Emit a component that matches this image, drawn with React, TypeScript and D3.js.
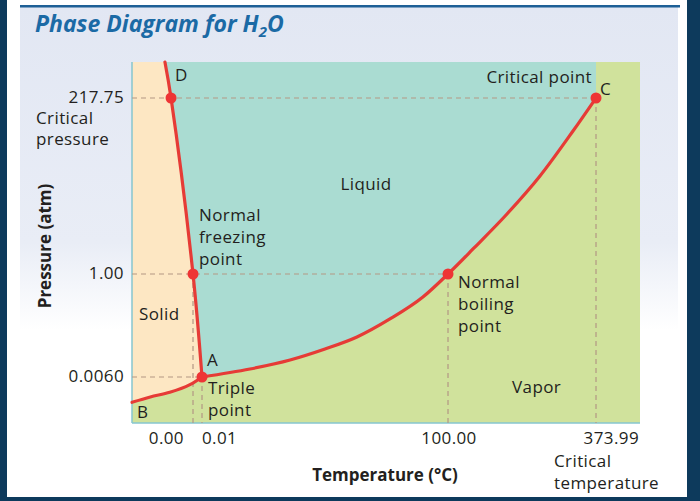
import React from "react";
import * as d3 from "d3";

// ---- data (schematic phase diagram) ----
const tempTicks = [0, 0.01, 100, 373.99];
const tempTickLabels = ["0.00", "0.01", "100.00", "373.99"];
const pressureTicks = [217.75, 1, 0.006];
const pressureTickLabels = ["217.75", "1.00", "0.0060"];

// melting curve: from top of chart down to triple point A
const meltCurve: [number, number][] = [
  [-4.6, 250],
  [-3.6, 217.75],
  [0, 1],
  [0.01, 0.006],
];
// vaporization curve: A -> C
const vaporCurve: [number, number][] = [
  [0.01, 0.006],
  [19.5, 0.083],
  [35.8, 0.17],
  [50, 0.276],
  [63, 0.392],
  [76.4, 0.566],
  [89.8, 0.778],
  [100, 1],
  [146.3, 31.8],
  [209.2, 74.9],
  [270.3, 121.7],
  [331.4, 177.1],
  [373.99, 217.75],
];
// sublimation curve: A -> B
const sublimationCurve: [number, number][] = [
  [0.01, 0.006],
  [-0.5, 0.005],
  [-3.8, 0.004],
  [-7, 0.0034],
  [-10, 0.0027],
];
// key points
const keyPoints: [number, number][] = [
  [-3.6, 217.75],
  [0, 1],
  [0.01, 0.006],
  [100, 1],
  [373.99, 217.75],
];

const TEMP_DOMAIN = [-10, 0, 0.01, 100, 373.99, 400];
const PRESS_DOMAIN = [0, 0.006, 1, 217.75, 250];

const FONT = "'Open Sans', 'Noto Sans', sans-serif";
const TXT = "#231f20";

export default function App() {
  const x = d3.scaleLinear().domain(TEMP_DOMAIN).range([132, 193, 202, 448, 596, 640]);
  const y = d3.scaleLinear().domain(PRESS_DOMAIN).range([423, 377, 274, 98, 62]);
  const x0 = x(TEMP_DOMAIN[0]);
  const x1 = x(TEMP_DOMAIN[TEMP_DOMAIN.length - 1]);
  const y0 = y(PRESS_DOMAIN[0]);
  const y1 = y(PRESS_DOMAIN[PRESS_DOMAIN.length - 1]);

  const line = d3
    .line<[number, number]>()
    .x((d) => x(d[0]))
    .y((d) => y(d[1]))
    .curve(d3.curveCatmullRom.alpha(0.5));
  const lineMono = d3
    .line<[number, number]>()
    .x((d) => x(d[0]))
    .y((d) => y(d[1]))
    .curve(d3.curveMonotoneX);

  const meltPath = line(meltCurve) || "";
  const vaporPath = lineMono(vaporCurve) || "";
  const subPath = line(sublimationCurve) || "";

  const cx = x(373.99);
  const solidArea = `${meltPath}L${subPath.slice(1)}L${x0},${y1}Z`;
  const liquidArea = `${vaporPath}L${cx},${y1}L${x(meltCurve[0][0])},${y1}L${meltPath.slice(1)}Z`;

  const dash = "#b39784";
  const textProps = { fontFamily: FONT, fontSize: 17, fill: TXT, letterSpacing: 0.4 };

  return (
    <svg
      width={700}
      height={501}
      style={{ position: "absolute", left: 0, top: 0 }}
      fontFamily={FONT}
    >
      <defs>
        <linearGradient id="bg" x1="0" y1="0" x2="0" y2="1">
          <stop offset="0" stopColor="#e2e7f3" />
          <stop offset="0.48" stopColor="#e9edf6" />
          <stop offset="0.66" stopColor="#ffffff" />
          <stop offset="1" stopColor="#ffffff" />
        </linearGradient>
      </defs>
      <rect x={0} y={0} width={700} height={501} fill="#ffffff" />
      <rect x={20} y={7} width={658} height={490} fill="url(#bg)" />
      <rect x={20} y={5} width={660} height={2.5} fill="#1d5f96" />
      <rect x={0} y={0} width={7} height={501} fill="#0d3a5c" />
      <rect x={687} y={0} width={13} height={501} fill="#0d3a5c" />
      <rect x={0} y={497} width={700} height={4} fill="#0d3a5c" />

      {/* title */}
      <text x={35} y={32} fontSize={23} fontWeight="bold" fontStyle="italic" fill="#1b6aa5" fontFamily={FONT}>
        Phase Diagram for H<tspan fontSize={15} dy={5}>2</tspan>
        <tspan dy={-5}>O</tspan>
      </text>

      {/* regions */}
      <rect x={x0} y={y1} width={x1 - x0} height={y0 - y1} fill="#d0e29c" />
      <path d={liquidArea} fill="#aadcd2" />
      <path d={solidArea} fill="#fde7c3" />

      {/* plot border */}
      <line x1={x0} x2={x0} y1={y1} y2={y0} stroke="#86c6cf" strokeWidth={1.5} />
      <line x1={x0} x2={x1} y1={y0} y2={y0} stroke="#86c6cf" strokeWidth={1.5} />

      {/* dashed guides */}
      <g stroke={dash} strokeWidth={1.2} strokeDasharray="5,4" fill="none">
        <line x1={x0} x2={x(373.99)} y1={y(217.75)} y2={y(217.75)} />
        <line x1={x0} x2={x(100)} y1={y(1)} y2={y(1)} />
        <line x1={x0} x2={x(0.01)} y1={y(0.006)} y2={y(0.006)} />
        <line x1={x(0)} x2={x(0)} y1={y(1)} y2={y0} />
        <line x1={x(0.01)} x2={x(0.01)} y1={y(0.006)} y2={y0} />
        <line x1={x(100)} x2={x(100)} y1={y(1)} y2={y0} />
        <line x1={x(373.99)} x2={x(373.99)} y1={y(217.75)} y2={y0} />
      </g>

      {/* curves */}
      <g stroke="#e63b36" strokeWidth={3.2} fill="none" strokeLinecap="round">
        <path d={meltPath} />
        <path d={vaporPath} />
        <path d={subPath} />
      </g>
      {keyPoints.map((p, i) => (
        <circle key={i} cx={x(p[0])} cy={y(p[1])} r={5.5} fill="#ee3535" />
      ))}

      {/* y tick labels */}
      {pressureTicks.map((p, i) => (
        <text key={i} x={124} y={y(p) + 5} textAnchor="end" {...textProps}>
          {pressureTickLabels[i]}
        </text>
      ))}
      <text x={36} y={124} {...textProps}>Critical</text>
      <text x={36} y={145} {...textProps}>pressure</text>

      {/* x tick labels */}
      <text x={x(tempTicks[0]) - 9} y={444} textAnchor="end" {...textProps}>{tempTickLabels[0]}</text>
      <text x={x(tempTicks[1])} y={444} textAnchor="start" {...textProps}>{tempTickLabels[1]}</text>
      <text x={x(tempTicks[2]) + 1} y={444} textAnchor="middle" {...textProps}>{tempTickLabels[2]}</text>
      <text x={x(tempTicks[3]) + 43} y={444} textAnchor="end" {...textProps}>{tempTickLabels[3]}</text>
      <text x={554} y={467} {...textProps}>Critical</text>
      <text x={554} y={489} {...textProps}>temperature</text>

      {/* axis titles */}
      <text x={385} y={481} textAnchor="middle" fontSize={17} fontWeight="bold" fill={TXT} fontFamily={FONT}>
        Temperature (°C)
      </text>
      <text
        transform="translate(51,246) rotate(-90)"
        textAnchor="middle"
        fontSize={17}
        fontWeight="bold"
        fill={TXT}
        fontFamily={FONT}
      >
        Pressure (atm)
      </text>

      {/* annotations */}
      <text x={175} y={81} {...textProps}>D</text>
      <text x={592} y={83} textAnchor="end" {...textProps}>Critical point</text>
      <text x={600} y={95} {...textProps}>C</text>
      <text x={366} y={190} textAnchor="middle" {...textProps}>Liquid</text>
      <text x={199} y={221} {...textProps}>Normal</text>
      <text x={199} y={243} {...textProps}>freezing</text>
      <text x={199} y={265} {...textProps}>point</text>
      <text x={139} y={320} {...textProps}>Solid</text>
      <text x={458} y={288} {...textProps}>Normal</text>
      <text x={458} y={310} {...textProps}>boiling</text>
      <text x={458} y={332} {...textProps}>point</text>
      <text x={207} y={366} {...textProps}>A</text>
      <text x={208} y={394} {...textProps}>Triple</text>
      <text x={208} y={416} {...textProps}>point</text>
      <text x={137} y={418} {...textProps}>B</text>
      <text x={512} y={393} {...textProps}>Vapor</text>
    </svg>
  );
}
